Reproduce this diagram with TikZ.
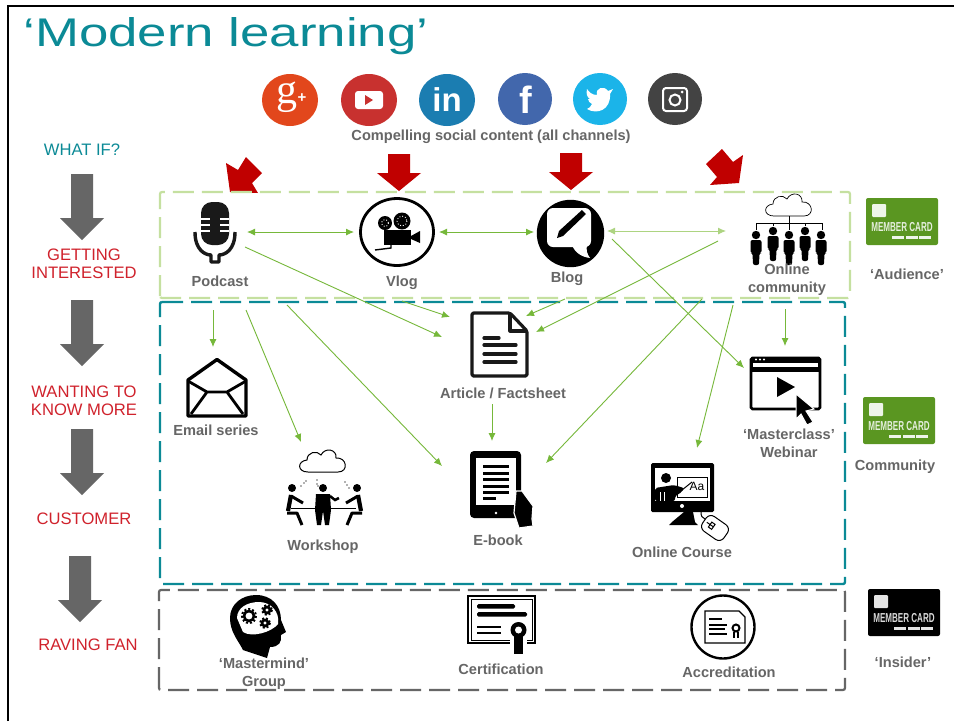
\documentclass[tikz,border=0pt]{standalone}
\usepackage{fontspec}
\setmainfont{Liberation Sans}
\newfontfamily\serifg{Liberation Serif}
\usetikzlibrary{arrows.meta}
\definecolor{teal1}{HTML}{0B8A96}
\definecolor{red1}{HTML}{C00000}
\definecolor{red2}{HTML}{D0222C}
\definecolor{lgreen}{HTML}{C5E0A0}
\definecolor{agreen}{HTML}{76B83A}
\definecolor{cardgreen}{HTML}{5A9621}
\definecolor{grey1}{HTML}{666666}
\definecolor{gplusc}{HTML}{E2471C}
\definecolor{tubec}{HTML}{C8312F}
\definecolor{linkc}{HTML}{1B7DB1}
\definecolor{fbookc}{HTML}{4267AC}
\definecolor{twitc}{HTML}{1BB4E9}
\definecolor{instac}{HTML}{434343}
\tikzset{
 lbl/.style={text=grey1,font=\fontsize{14.6}{18}\selectfont\bfseries,align=center,inner sep=0pt},
 stage/.style={text=red2,font=\fontsize{16.6}{18}\selectfont,align=center,inner sep=0pt},
 link/.style={agreen,line width=0.9pt,-{Latex[length=8pt,width=7pt]}},
 both/.style={agreen,line width=0.9pt,{Latex[length=8pt,width=7pt]}-{Latex[length=8pt,width=7pt]}},
 ico/.style={line width=3.2pt,line join=round},
}
\newcommand{\disc}[4]{\fill[#4] (#1,#2) ellipse[x radius=#3,y radius=26];}
\newcommand{\greyarrow}[2]{\fill[grey1] (#1-11,#2) -- (#1+11,#2) -- (#1+11,#2+44) -- (#1+22,#2+44) -- (#1,#2+66) -- (#1-22,#2+44) -- (#1-11,#2+44) -- cycle;}
\newcommand{\redarrow}[2]{\fill[red1] (#1-11,#2) -- (#1+11,#2) -- (#1+11,#2+19) -- (#1+22,#2+19) -- (#1,#2+37) -- (#1-22,#2+19) -- (#1-11,#2+19) -- cycle;}
\newcommand{\cloudpic}[3]{\draw[black,line width=#3] (#1-15,#2+11) .. controls (#1-26,#2+11) and (#1-26,#2) .. (#1-16,#2-1) .. controls (#1-16,#2-9) and (#1-6,#2-11) .. (#1-2,#2-6) .. controls (#1+2,#2-14) and (#1+14,#2-12) .. (#1+13,#2-3) .. controls (#1+24,#2-4) and (#1+26,#2+11) .. (#1+15,#2+11) -- cycle;}
\newcommand{\member}[2]{\fill (#1,#2) circle (4.2);
 \fill[rounded corners=2pt] (#1-5.5,#2+5) -- (#1+5.5,#2+5) -- (#1+5.5,#2+18) -- (#1+3.5,#2+18) -- (#1+3,#2+30) -- (#1-3,#2+30) -- (#1-3.5,#2+18) -- (#1-5.5,#2+18) -- cycle;}
\newcommand{\gearpic}[3]{\draw[black,line width=2.6pt] (#1,#2) circle (#3);
 \draw[black,line width=2pt,dash pattern=on 2pt off 2pt] (#1,#2) circle (#3+2);}
\newcommand{\card}[5]{\fill[#4,rounded corners=2pt] (#1,#2) rectangle ++(72,47);
 \fill[white!90!#4,rounded corners=1pt] (#1+6,#2+6) rectangle ++(14,13);
 \node[text=white!85!#4,inner sep=0pt,xscale=0.62,font=\fontsize{13}{13}\selectfont\bfseries] (#5) at (#1+36,#2+29) {MEMBER CARD};
 \foreach \k in {26,40,53} \fill[white!90!#4] (#1+\k,#2+38) rectangle ++(12,2.5);}
\begin{document}
\begin{tikzpicture}[x=1pt,y=-1pt]
\useasboundingbox (0,0) rectangle (954,721);
\fill[white] (0,0) rectangle (954,721);
\draw[black,line width=2.2pt] (8,721) -- (8,6) -- (954,6);
\node[text=teal1,inner sep=0pt,xscale=1.32,font=\fontsize{40}{46}\selectfont] (title) at (226,36) {‘Modern learning’};

\disc{290}{100}{28}{gplusc}
\disc{369}{100}{28}{tubec}
\disc{447}{100}{28}{linkc}
\disc{525}{99}{27}{fbookc}
\disc{600}{99}{27}{twitc}
\disc{675}{99}{27}{instac}
\node[text=white,inner sep=0pt,font=\serifg\fontsize{42}{42}\selectfont] (gplus) at (287,97) {g};
\node[text=white,inner sep=0pt,font=\fontsize{15}{15}\selectfont\bfseries] (plus) at (302,98) {+};
\fill[white,rounded corners=3pt] (355,91) rectangle (383,109);
\fill[tubec] (365,95) -- (373,100) -- (365,105) -- cycle;
\node[text=white,inner sep=0pt,font=\fontsize{33}{33}\selectfont\bfseries] (linkedin) at (447,100) {in};
\node[text=white,inner sep=0pt,font=\fontsize{38}{38}\selectfont\bfseries] (fbook) at (526,100) {f};
\fill[white] (587,109) .. controls (597,115) and (611,110) .. (610,94) -- (613,89) -- (608,91) .. controls (604,85) and (595,88) .. (597,95) .. controls (592,95) and (589,92) .. (587,89) .. controls (586,94) and (587,97) .. (590,99) -- (588,99) .. controls (589,102) .. (592,104) .. controls (591,107) and (589,108) .. (587,109) -- cycle;
\draw[white,line width=2pt,rounded corners=3pt] (663,88) rectangle (687,111);
\draw[white,line width=2pt] (675,100) circle (5.5);
\fill[white] (682,92) circle (1.5);
\node[lbl] (social) at (491,137) {Compelling social content (all channels)};

\node[text=teal1,inner sep=0pt,font=\fontsize{16.6}{18}\selectfont] (whatif) at (82,150) {WHAT IF?};
\greyarrow{82}{174}
\node[stage] (getting) at (84,264) {GETTING\\INTERESTED};
\greyarrow{82}{300}
\node[stage] (wanting) at (84,401) {WANTING TO\\KNOW MORE};
\greyarrow{82}{429}
\node[stage] (customer) at (84,519) {CUSTOMER};
\greyarrow{80}{556}
\node[stage] (raving) at (88,645) {RAVING FAN};

\fill[red1] (246,157) -- (262,173) -- (252,183) -- (258,193) -- (230,192) -- (226,163) -- (238,170) -- cycle;
\redarrow{399}{154}
\redarrow{571}{153}
\fill[red1] (722,149) -- (733,162) -- (743,155) -- (739,183) -- (710,185) -- (717,177) -- (706,164) -- cycle;

\draw[lgreen,line width=2.2pt,dash pattern=on 21pt off 8pt,rounded corners=2pt] (160,298) -- (160,192) -- (850,192) -- (850,298) -- cycle;
\draw[teal1,line width=2.4pt,dash pattern=on 21pt off 8pt,rounded corners=2pt] (160,302) -- (845,302) -- (845,584) -- (160,584) -- cycle;
\draw[grey1,line width=2.2pt,dash pattern=on 21pt off 8pt,rounded corners=2pt] (159,690) -- (159,590) -- (845,590) -- (845,690) -- cycle;

% podcast
\fill[black!90,rounded corners=11pt] (201,202) rectangle (229,245);
\foreach \y in {219,225,231} {\draw[white,line width=1.2pt] (201,\y) -- (210,\y) (220,\y) -- (229,\y);}
\draw[black!90,line width=3.4pt,line join=round] (195,232) .. controls (195,250) and (205,255) .. (211,255) -- (211,262) -- (219,262) -- (219,255) .. controls (225,255) and (235,250) .. (235,232);
\node[lbl] (podcast) at (220,281) {Podcast};

% vlog
\draw[black,line width=2.8pt] (397,232) ellipse[x radius=36.5,y radius=33.5];
\fill[black] (384,230) rectangle (411,245);
\fill[black] (411,236) -- (420,231) -- (420,243) -- (411,239) -- cycle;
\foreach \x/\y/\r in {385/223/7,402/221/8.5} {\fill[black] (\x,\y) circle (\r); \draw[white,line width=0.9pt,dotted] (\x,\y) circle (\r-3.5);}
\draw[black,line width=1.4pt] (391,245) -- (391,248) -- (375,250);
\node[lbl] (vlogl) at (402,283) {Vlog};

% blog
\fill[black] (570.5,233.5) circle (33.7);
\fill[white,rounded corners=6pt] (547,208) rectangle (591,247);
\fill[white] (572,245) .. controls (575,253) and (582,257) .. (590,258) .. controls (587,254) and (586,250) .. (587,245) -- cycle;
\fill[black] (557,238) -- (559,231) -- (582,210) -- (586,214) -- (563,236) -- cycle;
\node[lbl] (blogl) at (567,279) {Blog};

% community
\cloudpic{789}{205}{0.7pt}
\draw[black,line width=0.7pt] (789,216) -- (789,230) (756,230) -- (756,223) -- (822,223) -- (822,230) (773,223) -- (773,226) (805,223) -- (805,226);
\foreach \x/\y in {756/235,773/231,789/235,805/231,821/235} {\member{\x}{\y}}
\node[lbl] (onlinec) at (787,280) {Online\\community};

% article
\draw[black!90,ico,rounded corners=1.5pt] (472,313) -- (510,313) -- (527,331) -- (527,376) -- (472,376) -- cycle;
\draw[black!90,ico] (510,313) -- (510,331) -- (527,331);
\foreach \a/\b in {338/499,345/516,354/516,362/516} {\draw[black!90,line width=3.2pt,line cap=round] (484,\a) -- (\b,\a);}
\node[lbl] (article) at (503,393) {Article / Factsheet};

% email
\draw[black,line width=3.4pt,line join=round] (188,380) -- (217,359.5) -- (246,380) -- (246,416) -- (188,416) -- cycle;
\draw[black,line width=2.8pt] (188,381) -- (207,392) -- (227,392) -- (246,381) (191,414) -- (207,392) (243,414) -- (227,392);
\node[lbl] (email) at (216,430) {Email series};

% workshop
\cloudpic{323}{461}{1pt}
\foreach \x/\y in {292/488,323/488,357/488} {\fill[black] (\x,\y) circle (4);}
\draw[black,line width=1pt] (291,508) -- (356,508);
\draw[black,line width=4.2pt,line join=round] (291,495) -- (288,511);
\draw[black,line width=3pt,line join=round] (291,496) -- (303,503) (287,513) -- (297,513) -- (302,525);
\draw[black,line width=4.2pt,line join=round] (358,495) -- (361,511);
\draw[black,line width=3pt,line join=round] (358,496) -- (346,503) (362,513) -- (352,513) -- (347,525);
\fill[black] (316,494) -- (330,494) -- (331,510) -- (329,525) -- (325,525) -- (323,511) -- (321,525) -- (317,525) -- (315,510) -- cycle;
\draw[black,line width=2.5pt] (330,496) -- (335,500) -- (339,498);
\foreach \x/\y in {301/486,304/483,306/481,317/484,317/480,318/486,345/482,347/485,349/488} {\fill[black!60] (\x,\y) circle (0.9);}
\node[lbl] (workshop) at (323,547) {Workshop};

% e-book
\fill[black,rounded corners=4pt] (470,451) rectangle (521,518);
\fill[white] (476,458) rectangle (516,505);
\foreach \y in {465,472,478,485,491} {\fill[black] (483,\y) rectangle (509,\y+3);}
\fill[black] (483,497) rectangle (496,500);
\fill[white] (496,513) circle (1.3);
\fill[black,draw=white,line width=1.2pt] (516,491) -- (522,491) -- (533,506) -- (532,519) -- (533,526) -- (519,528) -- (514,513) -- cycle;
\node[lbl] (ebook) at (498,540) {E-book};

% masterclass
\draw[black,line width=2.6pt,rounded corners=1.5pt] (751,358) rectangle (820,409);
\fill[black] (751,357) rectangle (820,372);
\fill[white] (753,363) rectangle (818,367);
\foreach \x in {756,760,764} {\fill[white] (\x,359.5) circle (1.2);}
\fill[black] (777,377) -- (795,387) -- (777,397) -- cycle;
\fill[black,draw=white,line width=1pt] (796,394) -- (814,409) -- (806,411) -- (813,422) -- (807,425) -- (801,414) -- (796,419) -- cycle;
\node[lbl] (master) at (789,443) {‘Masterclass’\\Webinar};

% online course
\fill[black,rounded corners=1.5pt] (651,463) rectangle (714,512);
\fill[white] (655,468) rectangle (710,501);
\fill[black] (684,512) -- (693,512) -- (695,522) -- (698,525) -- (669,525) -- (672,522) -- cycle;
\fill[white] (682,506) circle (2);
\draw[black,line width=1pt] (677,477) rectangle (707,497);
\node[inner sep=0pt,font=\fontsize{12}{12}\selectfont] (aa) at (697,486) {Aa};
\fill[black] (666,478) circle (5);
\fill[black,rounded corners=2pt] (655,501) -- (655,488) -- (674,485) -- (684,488) -- (682,492) -- (675,496) -- (675,501) -- cycle;
\draw[white,line width=1pt] (660,492) -- (660,501) (664,492) -- (664,501);
\draw[black,line width=1pt] (682,490) -- (692,482);
\draw[black,line width=1pt,rounded corners=6pt,rotate around={-35:(715,528)}] (702,519) rectangle (728,537);
\draw[black,line width=1pt,rotate around={-35:(715,528)}] (705,528) -- (713,528) (713,525) rectangle (709,531);
\draw[black,line width=1pt] (701,512) .. controls (701,516) and (702,518) .. (705,519);
\node[lbl] (course) at (682,552) {Online Course};

% mastermind
\fill[black] (243,650) .. controls (238,640) and (230,632) .. (230,618) .. controls (230,604) and (242,595) .. (256,595) .. controls (272,595) and (281,606) .. (281,620) -- (286,632) -- (281,635) .. controls (282,642) and (279,647) .. (270,647) -- (267,658) -- cycle;
\fill[white] (237,618) .. controls (237,608) and (247,602) .. (259,602) .. controls (271,602) and (280,612) .. (278,624) .. controls (272,632) and (252,638) .. (243,632) -- cycle;
\gearpic{249}{616}{5}
\gearpic{267}{610}{3}
\gearpic{265}{623}{3}
\node[lbl] (mastermind) at (264,674) {‘Mastermind’\\Group};

% certification
\draw[black,line width=2pt] (468,596) rectangle (535,643);
\draw[black,line width=0.8pt] (471,599) rectangle (532,640);
\fill[black,rounded corners=1.5pt] (477,604) rectangle (515,608.5);
\fill[black,rounded corners=1.5pt] (477,612) rectangle (527,616.5);
\foreach \y in {627,633} {\draw[black,line width=2.6pt] (477,\y) -- (501,\y);}
\fill[white] (510,638) rectangle (527,646);
\fill[black] (514,636) rectangle (523,654);
\fill[black] (518.5,630) circle (8);
\fill[white] (518.5,630) circle (3.5);
\node[lbl] (certif) at (501,669) {Certification};

% accreditation
\draw[black,line width=2.4pt] (723,627) ellipse[x radius=31.5,y radius=31.5];
\draw[black,line width=1.1pt] (705,611) -- (739,611) -- (745,617) -- (745,643) -- (705,643) -- cycle;
\foreach \y/\b in {619/722,625/727,629/725,634/727} {\draw[black,line width=1.5pt] (709,\y) -- (\b,\y);}
\draw[black,line width=2pt] (736,628) circle (3.5);
\draw[black,line width=1.5pt] (734,632) -- (734,638) (738,632) -- (738,638);
\node[lbl] (accredit) at (729,672) {Accreditation};

\card{866}{198}{72}{cardgreen}{card1}
\node[lbl] (audience) at (907,274) {‘Audience’};
\card{863}{397}{72}{cardgreen}{card2}
\node[lbl] (communityl) at (895,467) {Community};
\card{868}{589}{72}{black}{card3}
\node[lbl] (insider) at (903,662) {‘Insider’};

\foreach \n/\x/\y in {a1/247/232,a2/354/232,b1/439/232,b2/534/232,c1/607/231,c2/726/231,
 d1/245/247,d2/442/337,e1/402/301,e2/450/317,f1/565/299,f2/526/316,g1/718/241,g2/536/332,
 h1/612/239,h2/744/368,i1/702/299,i2/546/463,j1/733/305,j2/697/448,k1/785/309,k2/785/346,
 l1/213/310,l2/213/347,m1/246/310,m2/301/442,n1/287/305,n2/442/466,o1/492/404,o2/492/441} {
 \coordinate (\n) at (\x,\y);
 }
\draw[both] (a1) -- (a2);
\draw[both] (b1) -- (b2);
\draw[both,color=lgreen!70!agreen] (c1) -- (c2);
\foreach \s/\t in {d1/d2,e1/e2,f1/f2,g1/g2,h1/h2,i1/i2,j1/j2,k1/k2,l1/l2,m1/m2,n1/n2,o1/o2} {
 \draw[link] (\s) -- (\t);
 }
\end{tikzpicture}
\end{document}
